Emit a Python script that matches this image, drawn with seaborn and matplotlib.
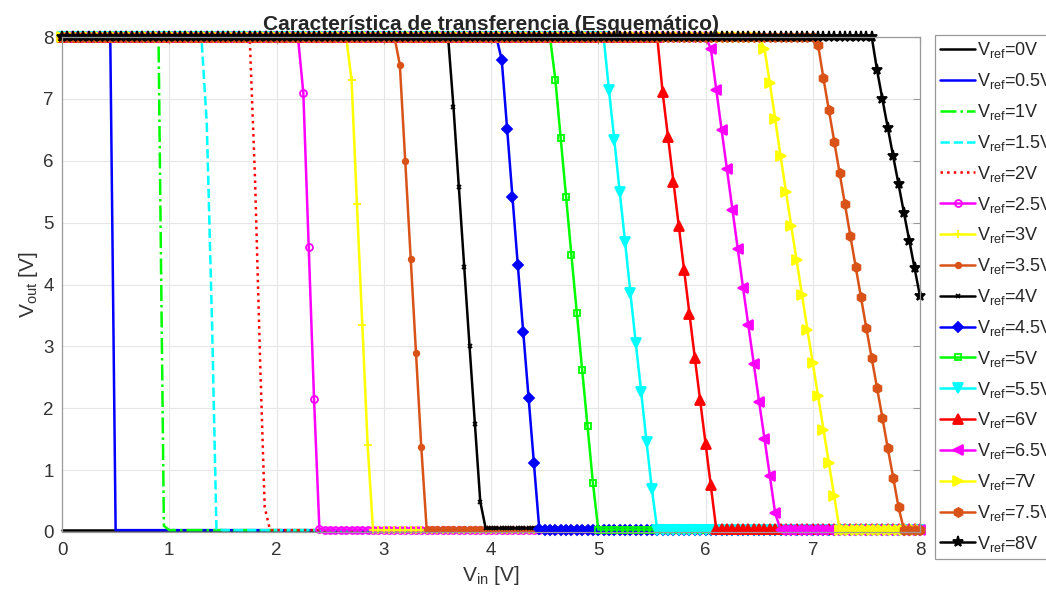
import numpy as np
import pandas as pd
import matplotlib
matplotlib.use("Agg")
import matplotlib.pyplot as plt
import seaborn as sns

# DC sweep of Vin (simulation step) and output levels
sweep_step = 0.05
v_high = 8.0

vref_values = [0, 0.5, 1, 1.5, 2, 2.5, 3, 3.5, 4, 4.5, 5, 5.5, 6, 6.5, 7, 7.5, 8]
v_low = [0.03, 0.03, 0.03, 0.03, 0.03, 0.04, 0.03, 0.05, 0.06, 0.04,
         0.04, 0.03, 0.05, 0.04, 0.04, 0.04, 0.04]

# transition region of every curve
tr_x_00 = []
tr_y_00 = []
tr_x_05 = [0.45, 0.50]
tr_y_05 = [8.0, 0.03]
tr_x_10 = [0.90, 0.95, 1.00]
tr_y_10 = [8.0, 0.10, 0.03]
tr_x_15 = [1.30, 1.35, 1.40, 1.44, 1.50]
tr_y_15 = [8.0, 6.6, 3.3, 0.05, 0.03]
tr_x_20 = [1.75, 1.80, 1.85, 1.89, 1.94]
tr_y_20 = [8.0, 5.7, 2.6, 0.4, 0.03]
tr_x_25 = [2.20, 2.25, 2.30, 2.35, 2.40]
tr_y_25 = [8.0, 7.1, 4.6, 2.15, 0.05]
tr_x_30 = [2.65, 2.70, 2.75, 2.80, 2.85, 2.90]
tr_y_30 = [8.0, 7.3, 5.3, 3.35, 1.4, 0.03]
tr_x_35 = [3.10, 3.15, 3.20, 3.25, 3.30, 3.35, 3.40]
tr_y_35 = [8.0, 7.55, 6.0, 4.42, 2.9, 1.37, 0.05]
tr_x_40 = [3.60, 3.65, 3.70, 3.75, 3.80, 3.85, 3.90, 3.95]
tr_y_40 = [8.0, 6.87, 5.58, 4.28, 3.0, 1.74, 0.49, 0.06]
tr_x_45 = [4.05, 4.10, 4.15, 4.20, 4.25, 4.30, 4.35, 4.40, 4.45]
tr_y_45 = [8.0, 7.63, 6.52, 5.42, 4.31, 3.24, 2.16, 1.11, 0.05]
tr_x_50 = [4.55, 4.60, 4.65, 4.70, 4.75, 4.80, 4.85, 4.90, 4.95, 5.00]
tr_y_50 = [8.0, 7.31, 6.36, 5.42, 4.47, 3.54, 2.62, 1.71, 0.80, 0.04]
tr_x_55 = [5.05, 5.10, 5.15, 5.20, 5.25, 5.30, 5.35, 5.40, 5.45, 5.50, 5.55]
tr_y_55 = [8.0, 7.14, 6.33, 5.50, 4.69, 3.86, 3.05, 2.27, 1.46, 0.69, 0.04]
tr_x_60 = [5.55, 5.60, 5.65, 5.70, 5.75, 5.80, 5.85, 5.90, 5.95, 6.00, 6.05, 6.10]
tr_y_60 = [8.0, 7.11, 6.39, 5.66, 4.94, 4.24, 3.53, 2.82, 2.13, 1.43, 0.76, 0.05]
tr_x_65 = [6.00, 6.05, 6.10, 6.15, 6.20, 6.25, 6.30, 6.35, 6.40, 6.45, 6.50,
           6.55, 6.60, 6.65, 6.70]
tr_y_65 = [8.0, 7.81, 7.15, 6.50, 5.86, 5.21, 4.58, 3.95, 3.34, 2.72, 2.10,
           1.51, 0.90, 0.30, 0.04]
tr_x_70 = [6.50, 6.55, 6.60, 6.65, 6.70, 6.75, 6.80, 6.85, 6.90, 6.95, 7.00,
           7.05, 7.10, 7.15, 7.20, 7.25]
tr_y_70 = [8.0, 7.81, 7.25, 6.67, 6.07, 5.50, 4.94, 4.39, 3.83, 3.27, 2.73,
           2.19, 1.65, 1.11, 0.58, 0.04]
tr_x_75 = [7.00, 7.05, 7.10, 7.15, 7.20, 7.25, 7.30, 7.35, 7.40, 7.45, 7.50,
           7.55, 7.60, 7.65, 7.70, 7.75, 7.80, 7.85]
tr_y_75 = [8.0, 7.87, 7.33, 6.82, 6.31, 5.80, 5.30, 4.79, 4.29, 3.79, 3.29,
           2.81, 2.32, 1.84, 1.35, 0.88, 0.40, 0.04]
tr_x_80 = [7.55, 7.60, 7.65, 7.70, 7.75, 7.80, 7.85, 7.90, 7.95, 8.00]
tr_y_80 = [8.0, 7.46, 6.99, 6.53, 6.07, 5.62, 5.16, 4.71, 4.26, 3.81]

tr_x = [tr_x_00, tr_x_05, tr_x_10, tr_x_15, tr_x_20, tr_x_25, tr_x_30, tr_x_35, tr_x_40,
        tr_x_45, tr_x_50, tr_x_55, tr_x_60, tr_x_65, tr_x_70, tr_x_75, tr_x_80]
tr_y = [tr_y_00, tr_y_05, tr_y_10, tr_y_15, tr_y_20, tr_y_25, tr_y_30, tr_y_35, tr_y_40,
        tr_y_45, tr_y_50, tr_y_55, tr_y_60, tr_y_65, tr_y_70, tr_y_75, tr_y_80]

# MATLAB-like styles
colors = ['#000000', '#0000FF', '#00FF00', '#00FFFF', '#FF0000', '#FF00FF', '#FFFF00', '#D95319',
          '#000000', '#0000FF', '#00FF00', '#00FFFF', '#FF0000', '#FF00FF', '#FFFF00', '#D95319',
          '#000000']
linestyles = ['-', '-', '-.', '--', ':', '-', '-', '-', '-', '-', '-', '-', '-', '-', '-', '-', '-']
markers = ['', '', '', '', '', 'o', '+', '.', 'x', 'D', 's', 'v', '^', '<', '>', 'h', '*']
msizes = [0, 0, 0, 0, 0, 5, 6, 8, 3.5, 5, 4.5, 6.5, 6.5, 6.5, 6.5, 6.5, 8]
hollow = ['o', 's']


def build_data():
    grid = np.round(np.arange(0, 8.0 + 1e-9, sweep_step), 2)
    rows = []
    for i, vref in enumerate(vref_values):
        xs, ys = tr_x[i], tr_y[i]
        if xs:
            before = [g for g in grid if g < xs[0] - 1e-9]
            after = [g for g in grid if g > xs[-1] + 1e-9]
            x = before + xs + after
            y = [v_high] * len(before) + ys + [v_low[i]] * len(after)
        else:
            x = list(grid)
            y = [v_low[i]] * len(grid)
        for a, b in zip(x, y):
            rows.append({'Vin': a, 'Vout': b, 'Vref': vref})
    return pd.DataFrame(rows)


def plot():
    df = build_data()

    sns.set_style("white")
    plt.rcParams['font.family'] = ['Liberation Sans', 'DejaVu Sans']
    plt.rcParams['mathtext.fontset'] = 'custom'
    plt.rcParams['mathtext.rm'] = 'Liberation Sans'

    fig = plt.figure(figsize=(10.46, 5.97), dpi=100)
    ax = fig.add_axes([62 / 1046, 1 - 532 / 597, 858 / 1046, 495 / 597])

    for i, vref in enumerate(vref_values):
        sub = df[df['Vref'] == vref]
        m = markers[i]
        kw = dict(color=colors[i], linestyle=linestyles[i], linewidth=1.8, clip_on=False)
        if m:
            kw.update(marker=m, markersize=msizes[i], markeredgecolor=colors[i],
                      markerfacecolor='none' if m in hollow else colors[i],
                      markeredgewidth=1.3)
        label = r'$\mathregular{V_{ref}}$=' + f'{vref:g}V'
        sns.lineplot(data=sub, x='Vin', y='Vout', ax=ax, sort=False, estimator=None,
                     errorbar=None, label=label, **kw)

    ax.set_xlim(0, 8)
    ax.set_ylim(0, 8)
    ax.set_xticks(range(0, 9))
    ax.set_yticks(range(0, 9))
    ax.grid(True, color='#e6e6e6', linewidth=0.8)
    ax.set_axisbelow(True)
    for s in ax.spines.values():
        s.set_color('#9a9a9a')
        s.set_linewidth(0.9)
    ax.tick_params(direction='in', length=5, width=0.8, color='#9a9a9a',
                   top=True, right=True, labelsize=13.5, labelcolor='#333333')
    ax.tick_params(axis='x', pad=7)
    ax.tick_params(axis='y', pad=6)

    ax.set_xlabel(r'$\mathregular{V_{in}}$ [V]', fontsize=15, color='#333333', labelpad=4)
    ax.set_ylabel(r'$\mathregular{V_{out}}$ [V]', fontsize=15, color='#333333', labelpad=2)
    ax.set_title('Característica de transferencia (Esquemático)', fontsize=15,
                 fontweight='bold', pad=5)

    leg = ax.legend(loc='upper left', bbox_to_anchor=(935 / 1046, 1 - 35 / 597),
                    bbox_transform=fig.transFigure, borderaxespad=0, fontsize=13,
                    frameon=True, fancybox=False, edgecolor='#9a9a9a', framealpha=1,
                    handlelength=1.9, handletextpad=0.15, borderpad=0.3,
                    labelspacing=0.6, numpoints=1)
    leg.get_frame().set_linewidth(0.9)

    fig.savefig('out.png', dpi=100)


if __name__ == '__main__':
    plot()
